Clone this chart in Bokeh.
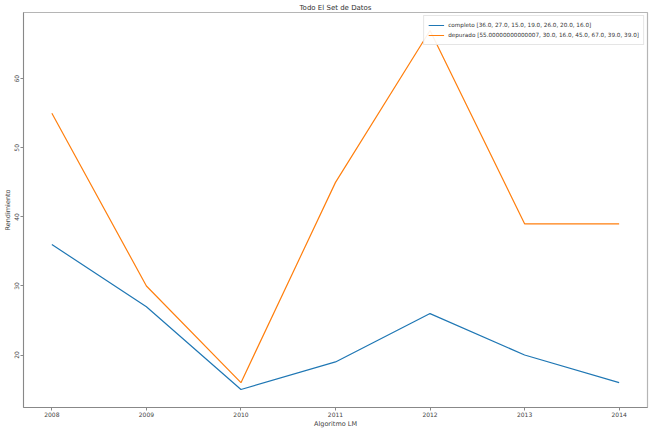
from bokeh.plotting import figure
from bokeh.embed import file_html
from bokeh.resources import INLINE
from bokeh.models import FixedTicker, Range1d, Legend, LegendItem

years = [2008, 2009, 2010, 2011, 2012, 2013, 2014]
completo = [36.0, 27.0, 15.0, 19.0, 26.0, 20.0, 16.0]
depurado = [55.00000000000007, 30.0, 16.0, 45.0, 67.0, 39.0, 39.0]
y_ticks = [20, 30, 40, 50, 60]
title_text = "Todo El Set de Datos"
x_label = "Algoritmo LM"
y_label = "Rendimiento"

FONT = "DejaVu Sans"

p = figure(width=651, height=430, output_backend="svg", toolbar_location=None,
           x_range=Range1d(2007.7, 2014.3), y_range=Range1d(12.4, 69.6))
p.min_border_left = 0
p.min_border_right = 4
p.min_border_top = 4
p.min_border_bottom = 0
p.background_fill_color = "white"
p.border_fill_color = "white"
p.outline_line_color = "#b5b5b5"
p.outline_line_width = 1.2
p.grid.visible = False

p.title.text = title_text
p.title.align = "center"
p.title.text_font = FONT
p.title.text_font_size = "7px"
p.title.text_font_style = "normal"
p.title.text_color = "#333333"
p.title.standoff = 2
p.title.offset = 0

for ax in (p.xaxis[0], p.yaxis[0]):
    ax.major_label_text_font = FONT
    ax.major_label_text_font_size = "6px"
    ax.major_label_text_line_height = 1.0
    ax.major_label_text_color = "#444444"
    ax.axis_label_text_font = FONT
    ax.axis_label_text_font_size = "6.5px"
    ax.axis_label_text_line_height = 1.0
    ax.axis_label_text_font_style = "normal"
    ax.axis_label_text_color = "#444444"
    ax.axis_line_color = "#888888"
    ax.major_tick_line_color = "#888888"
    ax.major_tick_out = 3
    ax.major_tick_in = 0
    ax.minor_tick_out = 0
    ax.minor_tick_in = 0
    ax.major_label_standoff = 1
    ax.axis_label_standoff = 0

p.xaxis.ticker = FixedTicker(ticks=years)
p.yaxis.ticker = FixedTicker(ticks=y_ticks)
p.xaxis.axis_label = x_label
p.yaxis.axis_label = y_label
p.yaxis.major_label_orientation = "vertical"

r1 = p.line(years, completo, line_color="#1f77b4", line_width=1.2)
r2 = p.line(years, depurado, line_color="#ff7f0e", line_width=1.2)

legend = Legend(items=[
    LegendItem(label="completo " + str(completo), renderers=[r1]),
    LegendItem(label="depurado " + str(depurado), renderers=[r2]),
], location="top_right")
legend.label_text_font = FONT
legend.label_text_font_size = "5.7px"
legend.label_text_color = "#333333"
legend.glyph_width = 16
legend.glyph_height = 10
legend.label_height = 10
legend.spacing = 0
legend.padding = 4
legend.margin = 3
legend.label_standoff = 4
legend.border_line_color = "#cccccc"
legend.background_fill_alpha = 0.9
p.add_layout(legend)

open("out.html", "w").write(file_html(p, INLINE))
